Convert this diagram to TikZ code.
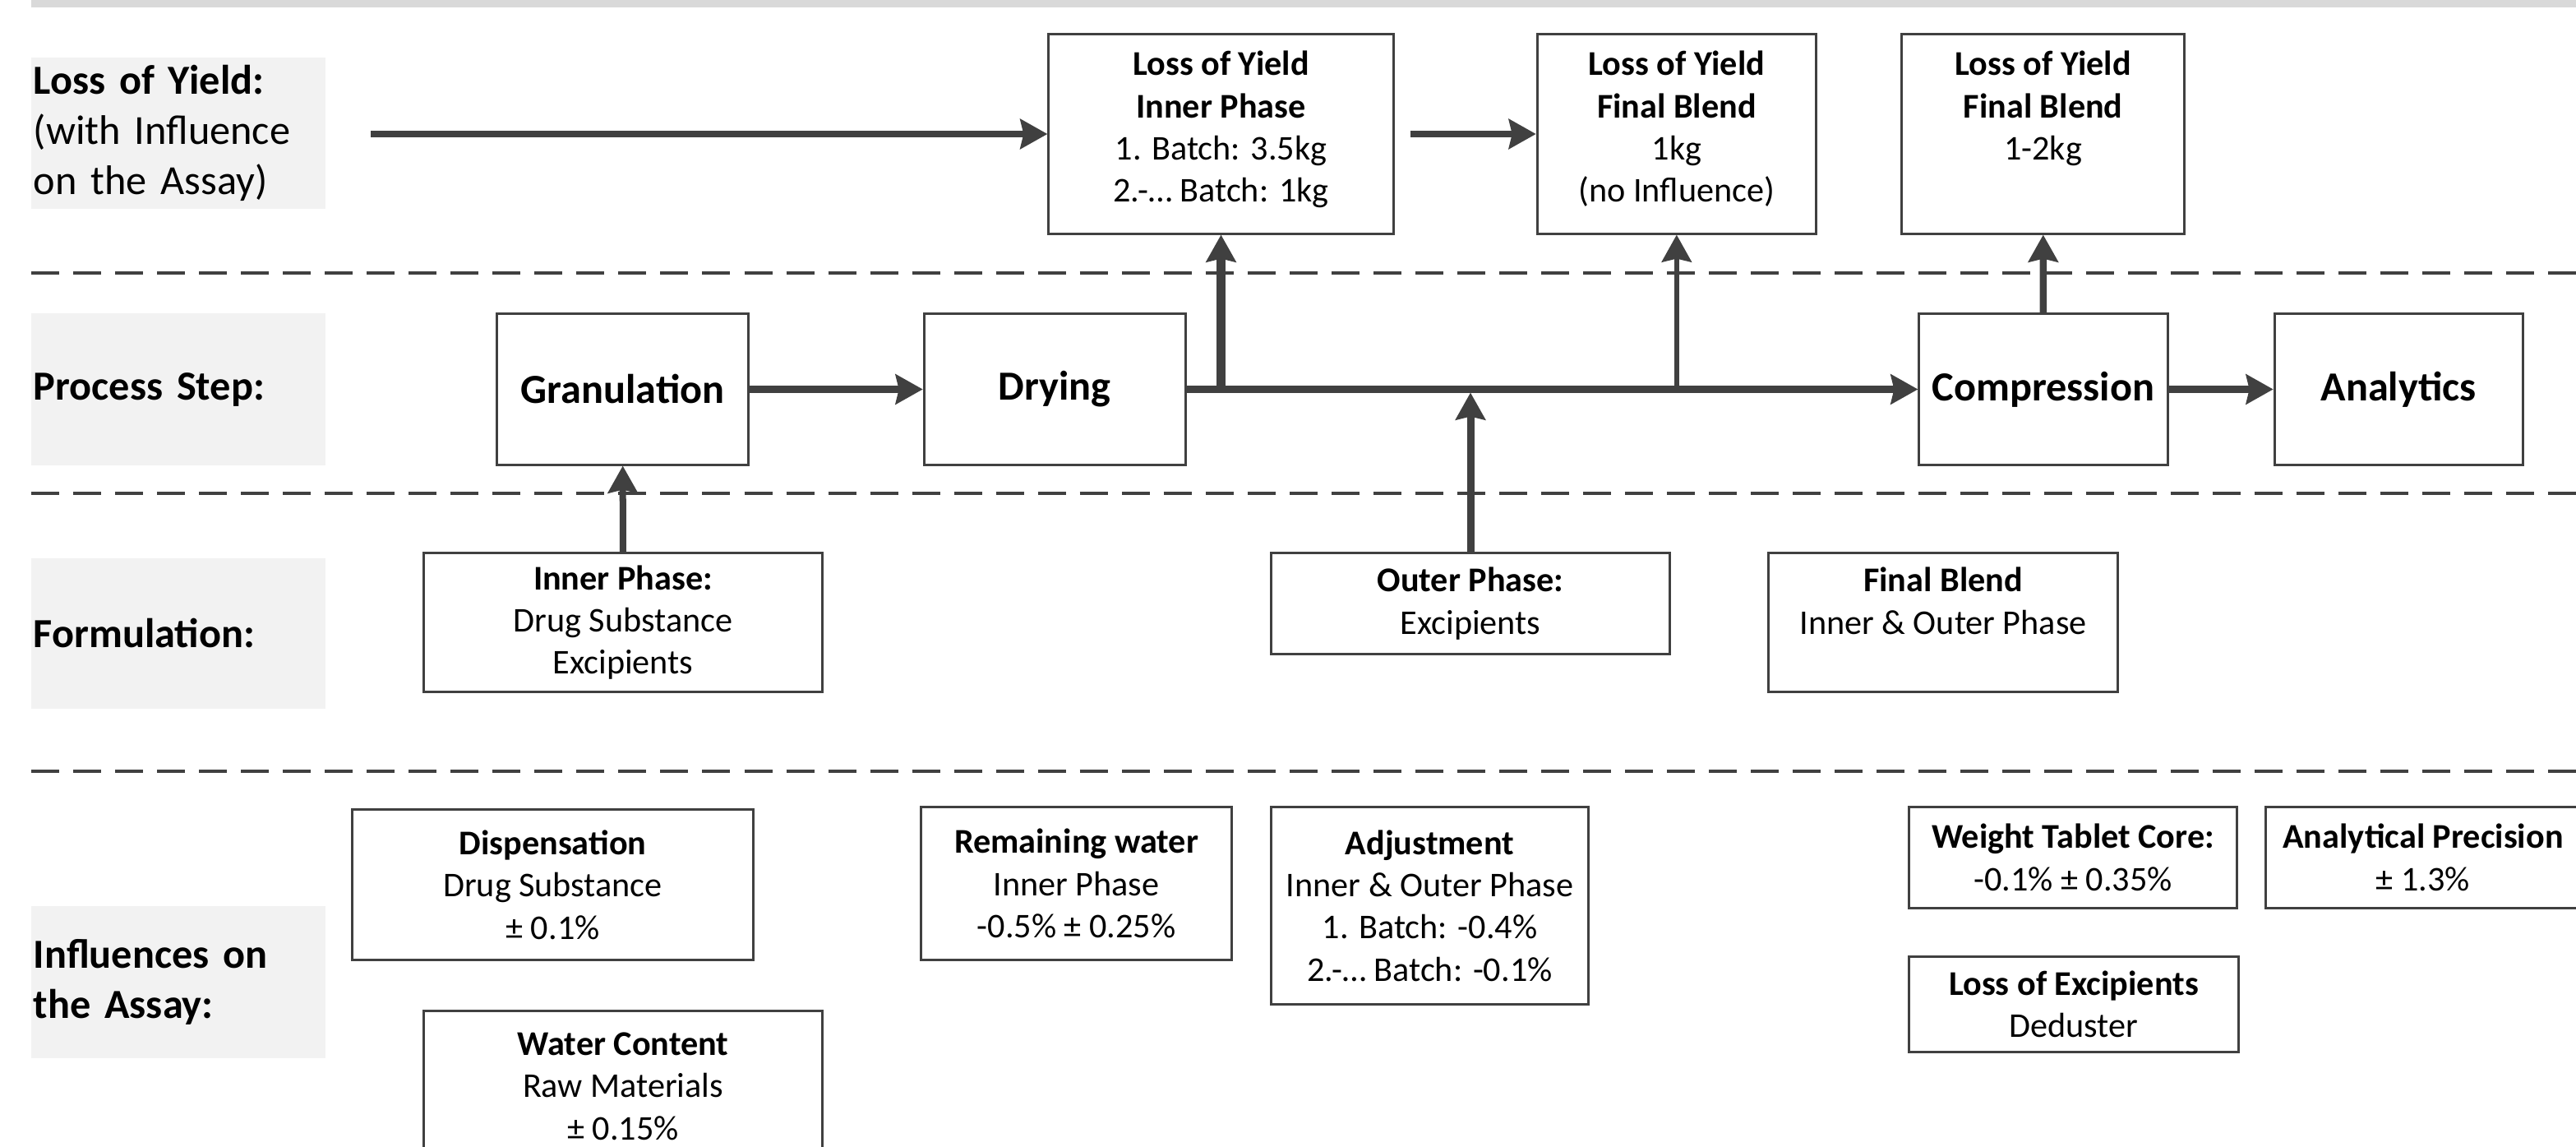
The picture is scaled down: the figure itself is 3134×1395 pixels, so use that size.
\documentclass[tikz,border=0pt]{standalone}
\usepackage{fontspec}
\setmainfont{Carlito}
\usetikzlibrary{arrows.meta,positioning}

\definecolor{dgray}{HTML}{404040}
\definecolor{lgray}{HTML}{F2F2F2}
\definecolor{bgray}{HTML}{D9D9D9}

\begin{document}
\begin{tikzpicture}[x=0.01cm, y=-0.01cm, >={Stealth[length=0.33cm, width=0.36cm, inset=0.04cm]},
  lb/.style={fill=lgray, text width=3.52cm, inner xsep=0.03cm, inner ysep=0pt, minimum height=#1, align=left, font=\fontsize{14.3}{17.4}\selectfont},
  ps/.style={draw=dgray, line width=0.03cm, minimum width=#1, minimum height=1.83cm, font=\fontsize{14.3}{17.4}\selectfont\bfseries},
  bx/.style={draw=dgray, line width=0.03cm, align=center, font=\fontsize{12}{14.6}\selectfont},
  tt/.style={anchor=north, yshift=-0.21cm, inner sep=0pt, align=center, font=\fontsize{12}{14.6}\selectfont},
  arr/.style={->, draw=dgray, line width=0.085cm},
  sepline/.style={draw=dgray, line width=0.045cm, dash pattern=on 0.34cm off 0.17cm}]
\path[use as bounding box] (0,0) rectangle (3134,1395);
\clip (0,0) rectangle (3134,1395);

% header bar and row separators
\fill[bgray] (38,0) rectangle (3134,9);
\foreach \y in {332,600,938}
  \draw[sepline] (38,\y) -- (3134,\y);

% row labels
\node[lb=1.84cm] (lyl) at (217,162) {\textbf{Loss of Yield:}\\(with Influence\\on the Assay)};
\node[lb=1.85cm] (psl) at (217,473.5) {\textbf{Process Step:}};
\node[lb=1.83cm] (fol) at (217,770.5) {\textbf{Formulation:}};
\node[lb=1.85cm] (ial) at (217,1194.5) {\textbf{Influences on}\\\textbf{the Assay:}};

% process steps
\node[ps=3.05cm] (gran) at (757.5,473.5) {Granulation};
\node[ps=3.18cm, right=2.11cm of gran] (dry) {Drying};
\node[ps=3.02cm, right=8.89cm of dry] (comp) {Compression};
\node[ps=3.02cm, right=1.27cm of comp] (ana) {Analytics};

% loss of yield
\node[bx, minimum width=4.19cm, minimum height=2.42cm,
  label={[tt]north:{\textbf{Loss of Yield}\\\textbf{Inner Phase}\\1. Batch: 3.5kg\\2.-… Batch: 1kg}}] (ipl) at (1485.5,163) {};
\node[bx, minimum width=3.39cm, minimum height=2.42cm, right=1.72cm of ipl,
  label={[tt]north:{\textbf{Loss of Yield}\\\textbf{Final Blend}\\1kg\\(no Influence)}}] (fbl) {};
\node[bx, minimum width=3.44cm, minimum height=2.42cm, right=1.01cm of fbl,
  label={[tt]north:{\textbf{Loss of Yield}\\\textbf{Final Blend}\\1-2kg}}] (fbl2) {};

% formulation
\node[bx, minimum width=4.84cm, minimum height=1.68cm] (ip) at (758,757) {\textbf{Inner Phase:}\\Drug Substance\\Excipients};
\node[bx, minimum width=4.84cm, minimum height=1.22cm] (op) at (1789,734) {\textbf{Outer Phase:}\\Excipients};
\node[bx, minimum width=4.24cm, minimum height=1.68cm,
  label={[tt, yshift=0.03cm]north:{\textbf{Final Blend}\\Inner \& Outer Phase}}] (fb) at (2364,757) {};

% influences on the assay
\node[bx, minimum width=4.87cm, minimum height=1.82cm] (disp) at (672.5,1076) {\textbf{Dispensation}\\Drug Substance\\± 0.1\%};
\node[bx, minimum width=4.84cm, minimum height=1.82cm] (wc) at (758,1321) {\textbf{Water Content}\\Raw Materials\\± 0.15\%};
\node[bx, minimum width=3.77cm, minimum height=1.85cm] (rw) at (1309.5,1074.5) {\textbf{Remaining water}\\Inner Phase\\-0.5\% ± 0.25\%};
\node[bx, minimum width=3.85cm, minimum height=2.39cm] (adj) at (1739.5,1101.5) {\textbf{Adjustment}\\Inner \& Outer Phase\\1. Batch: -0.4\%\\2.-… Batch: -0.1\%};
\node[bx, minimum width=3.98cm, minimum height=1.22cm] (wtc) at (2522,1043) {\textbf{Weight Tablet Core:}\\-0.1\% ± 0.35\%};
\node[bx, minimum width=3.82cm, minimum height=1.22cm] (ap) at (2948,1043) {\textbf{Analytical Precision}\\± 1.3\%};
\node[bx, minimum width=4.00cm, minimum height=1.15cm] (le) at (2523,1221.5) {\textbf{Loss of Excipients}\\Deduster};

% connectors
\coordinate (lys) at (451,163);
\draw[arr] (lys) -- (ipl);
\draw[arr, shorten <=0.19cm] (ipl) -- (fbl);
\draw[arr] (gran) -- (dry);
\draw[arr] (dry) -- (comp);
\draw[arr] (comp) -- (ana);
\draw[arr, line width=0.11cm] (ipl.south |- dry.east) -- (ipl);
\draw[arr, line width=0.06cm] (fbl.south |- dry.east) -- (fbl);
\draw[arr] (comp) -- (fbl2);
\draw[arr, line width=0.09cm, shorten >=0.04cm] (op) -- (op.north |- dry.east);
\draw[arr, line width=0.08cm] (ip) -- (gran);
\end{tikzpicture}
\end{document}
